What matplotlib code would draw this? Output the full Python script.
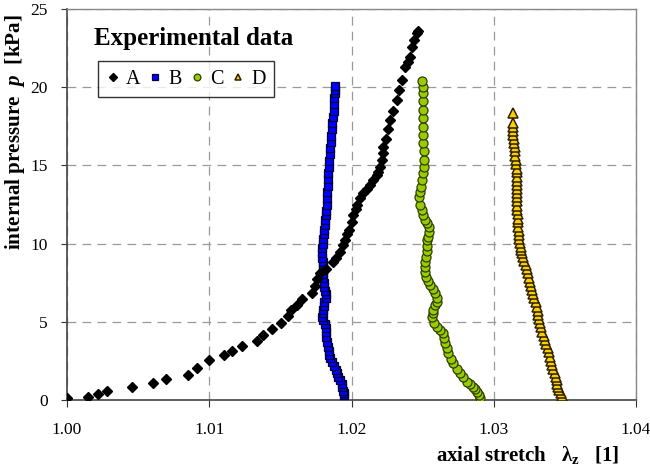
import matplotlib
matplotlib.use("Agg")
import matplotlib.pyplot as plt
from matplotlib.ticker import FixedLocator

plt.rcParams['font.family'] = ['Liberation Serif', 'DejaVu Serif']
plt.rcParams['mathtext.fontset'] = 'custom'
plt.rcParams['mathtext.rm'] = 'Liberation Serif:bold'
plt.rcParams['mathtext.it'] = 'Liberation Serif:italic:bold'
plt.rcParams['mathtext.bf'] = 'Liberation Serif:bold'

# ---- data ----
A_x = [1.0000, 1.00145, 1.0022, 1.00284, 1.00459, 1.00602, 1.00696, 1.00853, 1.00912, 1.00996,
       1.01106, 1.01158, 1.0123, 1.01338, 1.0138, 1.01441, 1.01502, 1.01551, 1.01577, 1.01617,
       1.0165, 1.0172, 1.01743, 1.0176, 1.0178, 1.0182, 1.01872, 1.0189, 1.0192, 1.0194,
       1.01954, 1.01966, 1.0198, 1.02001, 1.02013, 1.0203, 1.02037, 1.0206, 1.02083, 1.0211,
       1.0213, 1.02153, 1.02177, 1.02189, 1.022, 1.02212, 1.0222, 1.02224, 1.0224, 1.02255,
       1.0227, 1.0229, 1.02318, 1.02335, 1.02353, 1.02376, 1.02395, 1.02411, 1.02423, 1.0244,
       1.02458, 1.0247]
A_p = [0.1, 0.2, 0.38, 0.58, 0.81, 1.09, 1.32, 1.62, 2.07, 2.56,
       2.86, 3.15, 3.45, 3.79, 4.18, 4.56, 4.92, 5.35, 5.75, 6.07,
       6.45, 6.85, 7.29, 7.75, 8.1, 8.4, 8.84, 9.1, 9.45, 9.9,
       10.25, 10.6, 10.9, 11.4, 11.8, 12.2, 12.47, 12.9, 13.21, 13.5,
       13.75, 14.07, 14.39, 14.6, 14.92, 15.35, 15.8, 16.2, 16.7, 17.3,
       17.9, 18.5, 19.18, 19.8, 20.46, 21.31, 21.6, 21.95, 22.59, 23.0,
       23.44, 23.6]

B_x = [1.01945, 1.01948, 1.01942, 1.01935, 1.0193, 1.01918, 1.01907, 1.01898, 1.0189, 1.01875,
       1.0186, 1.0185, 1.01844, 1.0184, 1.01837, 1.0183, 1.0182, 1.01822, 1.01823, 1.01815,
       1.01798, 1.01796, 1.018, 1.01803, 1.01806, 1.0181, 1.01818, 1.01818, 1.01812, 1.0181,
       1.01806, 1.01802, 1.01802, 1.01803, 1.018, 1.01797, 1.01795, 1.01795, 1.01795, 1.018,
       1.01803, 1.01806, 1.0181, 1.01812, 1.01814, 1.01818, 1.01822, 1.01826, 1.01826, 1.01828,
       1.01832, 1.01835, 1.01837, 1.0184, 1.01843, 1.01847, 1.0185, 1.01855, 1.01858, 1.01862,
       1.01866, 1.0187, 1.01874, 1.01878, 1.0188, 1.01883, 1.01886, 1.01886]
B_p = [0.3, 0.45, 0.6, 0.8, 1.0, 1.25, 1.5, 1.7, 1.92, 2.2,
       2.45, 2.7, 2.9, 3.15, 3.4, 3.7, 4.05, 4.35, 4.6, 4.85,
       5.1, 5.3, 5.55, 5.75, 6.0, 6.25, 6.5, 6.75, 7.0, 7.25,
       7.5, 7.8, 8.05, 8.3, 8.55, 8.8, 9.1, 9.4, 9.7, 10.0,
       10.3, 10.6, 10.9, 11.2, 11.5, 11.8, 12.1, 12.5, 12.9, 13.3,
       13.7, 14.1, 14.5, 14.9, 15.3, 15.7, 16.1, 16.5, 16.9, 17.3,
       17.7, 18.1, 18.5, 18.9, 19.3, 19.6, 19.85, 20.05]

C_x = [1.02903, 1.02895, 1.02885, 1.0287, 1.02856, 1.0283, 1.0281, 1.02785, 1.02763, 1.0274,
       1.02716, 1.027, 1.02681, 1.0267, 1.02657, 1.0265, 1.02646, 1.02625, 1.02599, 1.0258,
       1.02564, 1.0257, 1.02575, 1.0259, 1.02599, 1.02598, 1.02587, 1.0257, 1.02552, 1.02535,
       1.02524, 1.0252, 1.02517, 1.0252, 1.02524, 1.02528, 1.0253, 1.02533, 1.0254, 1.02545,
       1.02547, 1.02532, 1.02517, 1.02505, 1.02494, 1.02485, 1.02477, 1.0248, 1.02487, 1.02497,
       1.02505, 1.02508, 1.0251, 1.02508, 1.02505, 1.02503, 1.025, 1.025, 1.025, 1.02503,
       1.02505, 1.02502, 1.02498]
C_p = [0.1, 0.3, 0.5, 0.7, 0.85, 1.0, 1.17, 1.45, 1.71, 2.0,
       2.35, 2.65, 2.99, 3.3, 3.62, 3.95, 4.26, 4.5, 4.69, 4.95,
       5.33, 5.55, 5.75, 6.05, 6.29, 6.55, 6.82, 7.1, 7.35, 7.6,
       7.88, 8.2, 8.52, 8.85, 9.16, 9.5, 9.85, 10.2, 10.44, 10.75,
       11.08, 11.3, 11.51, 11.8, 12.15, 12.5, 13.0, 13.3, 13.64, 14.05,
       14.49, 14.9, 15.35, 15.9, 16.41, 16.95, 17.47, 18.0, 18.54, 19.1,
       19.6, 20.0, 20.42]

D_x = [1.03487, 1.03478, 1.0347, 1.03462, 1.03454, 1.03448, 1.03442, 1.03436, 1.0343, 1.0342,
       1.03412, 1.03404, 1.03395, 1.03386, 1.03378, 1.03369, 1.0336, 1.03351, 1.03342, 1.03333,
       1.03325, 1.0332, 1.03314, 1.03308, 1.03302, 1.03294, 1.03285, 1.03276, 1.03267, 1.03261,
       1.03255, 1.03249, 1.03243, 1.03234, 1.03225, 1.03216, 1.03208, 1.03201, 1.03195, 1.0319,
       1.03185, 1.03181, 1.03178, 1.03175, 1.03173, 1.03171, 1.0317, 1.03168, 1.03166, 1.03164,
       1.03163, 1.03162, 1.03161, 1.03161, 1.03161, 1.03161, 1.03161, 1.03161, 1.03161, 1.03158,
       1.03155, 1.03152, 1.0315, 1.03147, 1.03144, 1.03141, 1.03138, 1.03136, 1.03135, 1.03133]
D_p = [0.05, 0.25, 0.45, 0.65, 0.85, 1.05, 1.3, 1.5, 1.71, 2.0,
       2.25, 2.5, 2.77, 3.05, 3.3, 3.58, 3.84, 4.1, 4.37, 4.65,
       4.9, 5.18, 5.45, 5.7, 5.97, 6.25, 6.5, 6.78, 7.03, 7.3,
       7.55, 7.83, 8.1, 8.38, 8.65, 8.9, 9.16, 9.38, 9.6, 9.8,
       10.02, 10.3, 10.55, 10.8, 11.08, 11.35, 11.6, 11.9, 12.15, 12.42,
       12.7, 12.95, 13.21, 13.48, 13.75, 14.0, 14.28, 14.55, 14.8, 15.08,
       15.35, 15.62, 15.9, 16.15, 16.41, 16.68, 16.95, 17.2, 17.47, 17.7]
D_top = (1.03133, 18.37)

x_ticks = [1.00, 1.01, 1.02, 1.03, 1.04]
x_tick_labels = ["1.00", "1.01", "1.02", "1.03", "1.04"]
y_ticks = [0, 5, 10, 15, 20, 25]

# ---- figure ----
fig = plt.figure(figsize=(6.5, 4.71), dpi=100)
ax = fig.add_axes([67/650, 1-400/471, (636-67)/650, (400-9)/471])
ax.set_xlim(1.00, 1.04)
ax.set_ylim(0, 25)

ax.xaxis.set_major_locator(FixedLocator(x_ticks))
ax.set_xticklabels(x_tick_labels)
ax.yaxis.set_major_locator(FixedLocator(y_ticks))
ax.tick_params(axis='both', direction='out', labelsize=12.5, colors='black')
ax.tick_params(axis='x', length=5, pad=11, color='#333333')
ax.tick_params(axis='y', length=4, pad=10, color='#333333')

ax.grid(True, color='#999999', linestyle=(0, (7, 5)), linewidth=0.9)
for s in ['left', 'bottom']:
    ax.spines[s].set_color('#444444')
    ax.spines[s].set_linewidth(1.2)
for s in ['top', 'right']:
    ax.spines[s].set_color('#888888')
    ax.spines[s].set_linewidth(1.0)

ax.plot(D_x + [D_top[0]], D_p + [D_top[1]], linestyle='none', marker='^', markersize=6.5,
        markerfacecolor='#FFCC00', markeredgecolor='#2a2000', markeredgewidth=1.1, label='D', zorder=3)
ax.plot(C_x, C_p, linestyle='none', marker='o', markersize=6.5,
        markerfacecolor='#99CC00', markeredgecolor='#2e3d00', markeredgewidth=0.9, label='C', zorder=3)
ax.plot(B_x, B_p, linestyle='none', marker='s', markersize=5.5,
        markerfacecolor='#0000FF', markeredgecolor='#000033', markeredgewidth=0.9, label='B', zorder=3)
ax.plot(A_x, A_p, linestyle='none', marker='D', markersize=5,
        markerfacecolor='black', markeredgecolor='black', label='A', zorder=4)

handles, labels = ax.get_legend_handles_labels()
order = [3, 2, 1, 0]
leg = ax.legend([handles[i] for i in order], [labels[i] for i in order],
                loc='upper left', bbox_to_anchor=((98-67)/569, (400-61)/391),
                ncol=4, fontsize=14.5, frameon=True, fancybox=False, borderpad=0.42,
                handlelength=0.6, handletextpad=0.35, columnspacing=0.45,
                markerscale=0.75, borderaxespad=0)
leg.get_frame().set_edgecolor('black')
leg.get_frame().set_linewidth(1.0)

ax.text((194-67)/569, (400-38)/391, "Experimental data", transform=ax.transAxes,
        ha='center', va='center', fontsize=18, fontweight='bold')

fig.text(619/650, 1-455/471, r"axial stretch   $\mathbf{\lambda_z}$   [1]", ha='right', va='center',
         fontsize=15, fontweight='bold')
fig.text(15/650, 1-132/471, r"internal pressure  $\mathit{p}$  [kPa]", ha='center', va='center',
         rotation=90, fontsize=15.2, fontweight='bold')

fig.savefig("out.png", dpi=100)
